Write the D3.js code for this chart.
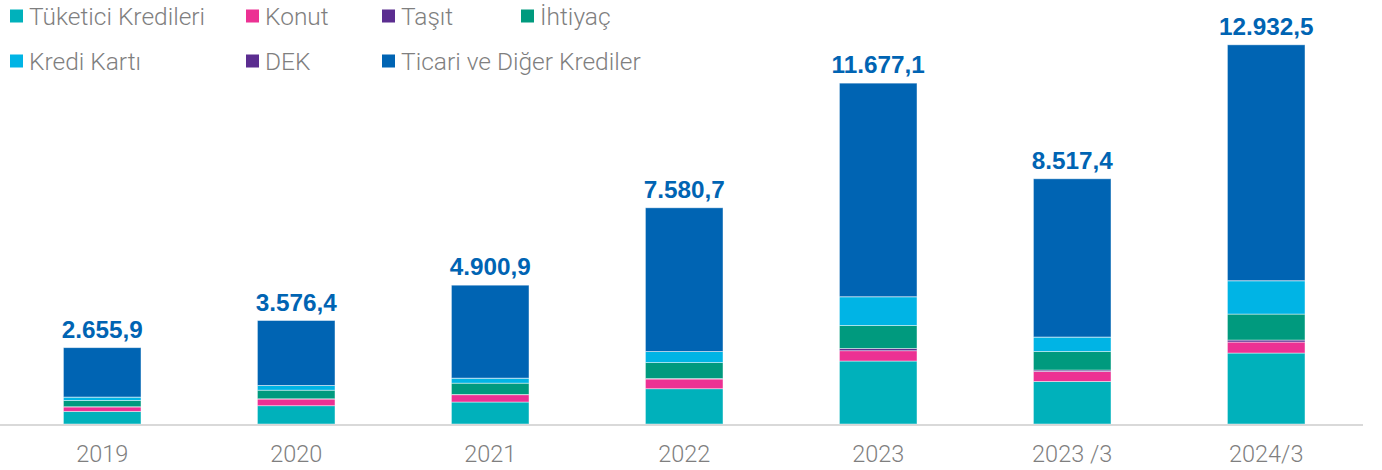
<!DOCTYPE html>
<html>
<head>
<meta charset="utf-8">
<script src="https://cdn.jsdelivr.net/npm/d3@7"></script>
<style>
    body { margin: 0; background: #fff; }
    svg { display: block; }
</style>
</head>
<body>
<svg id="chart" width="1382" height="470"></svg>
<script>
"use strict"

const years = ["2019", "2020", "2021", "2022", "2023", "2023 /3", "2024/3"]
const totals = [2655.9, 3576.4, 4900.9, 7580.7, 11677.1, 8517.4, 12932.5]

const tuketici = [530, 767, 922, 1480, 2642, 1786, 2977]
const konut = [185, 281, 306, 407, 432, 419, 461]
const tasit = [10, 10, 12, 20, 96, 59, 84]
const ihtiyac = [265, 361, 474, 671, 964, 780, 1090]
const krediKarti = [140, 197, 210, 461, 1203, 604, 1396]
const dek = [1, 1, 1, 2, 3, 2, 4]
const ticari = [2071, 2725, 3899, 6029, 8960, 6637, 9895]

const seriesNames = ["Tüketici Kredileri", "Konut", "Taşıt", "İhtiyaç", "Kredi Kartı", "DEK", "Ticari ve Diğer Krediler"]
const seriesValues = [tuketici, konut, tasit, ihtiyac, krediKarti, dek, ticari]
const colors = ["#00b1bb", "#ec3193", "#5b2d90", "#009a7e", "#00b4e5", "#5b2d90", "#0064b3"]

const svg = d3.select("#chart")
const baseline = 424

// one row per year, one key per series
let table = years.map(function(y, i) {
    let row = { year: y }
    seriesNames.forEach((name, j) => { row[name] = seriesValues[j][i] })
    return row
})

let stack = d3.stack().keys(seriesNames)
let layers = stack(table)

let x = d3.scaleBand()
    .domain(years)
    .range([5.2, 1363.2])
    .paddingInner(0.6)
    .paddingOuter(0.3)

let y = d3.scaleLinear()
    .domain([0, 15900])
    .range([baseline, 45])

let groups = svg.append("g").selectAll("g")
        .data(layers)
    .enter().append("g")
        .attr("fill", (d, i) => colors[i])

groups.selectAll("rect")
        .data(d => d)
    .enter().append("rect")
        .attr("x", d => x(d.data.year))
        .attr("width", x.bandwidth())
        .attr("y", d => y(d[1]))
        .attr("height", d => y(d[0]) - y(d[1]))
        .attr("stroke", "rgba(255,255,255,0.55)")
        .attr("stroke-width", 0.8)

// x axis line and labels
svg.append("line")
    .attr("x1", 0)
    .attr("x2", 1363)
    .attr("y1", baseline + 1)
    .attr("y2", baseline + 1)
    .attr("stroke", "#d9d9d9")
    .attr("stroke-width", 1.8)

svg.append("g").selectAll("text")
        .data(years)
    .enter().append("text")
        .attr("x", d => x(d) + x.bandwidth() / 2)
        .attr("y", 462)
        .attr("text-anchor", "middle")
        .style("font-family", "Roboto, 'Liberation Sans', sans-serif")
        .style("font-weight", 300)
        .style("font-size", "23.5px")
        .style("fill", "#7f7f7f")
        .text(d => d)

// totals above bars
let fmt = d3.formatLocale({ decimal: ",", thousands: ".", grouping: [3], currency: ["", ""] }).format(",.1f")
let last = layers[layers.length - 1]

svg.append("g").selectAll("text")
        .data(last)
    .enter().append("text")
        .attr("x", d => x(d.data.year) + x.bandwidth() / 2)
        .attr("y", d => y(d[1]) - 10)
        .attr("text-anchor", "middle")
        .style("font-family", "'Liberation Sans', Arial, sans-serif")
        .style("font-weight", "bold")
        .style("font-size", "24.3px")
        .style("fill", "#0064b3")
        .text((d, i) => fmt(totals[i]))

// legend, two rows
const legendPos = [[10, 16], [246, 16], [382, 16], [521, 16], [10, 61], [246, 61], [382, 61]]

let legend = svg.append("g").selectAll("g")
        .data(seriesNames)
    .enter().append("g")
        .attr("transform", (d, i) => "translate(" + legendPos[i][0] + "," + legendPos[i][1] + ")")

legend.append("rect")
    .attr("x", 0)
    .attr("y", -6.5)
    .attr("width", 13)
    .attr("height", 13)
    .attr("fill", (d, i) => colors[i])

legend.append("text")
    .attr("x", 19)
    .attr("y", 9)
    .style("font-family", "Roboto, 'Liberation Sans', sans-serif")
    .style("font-weight", 300)
    .style("font-size", "24.5px")
    .style("fill", "#7f7f7f")
    .text(d => d)
</script>
</body>
</html>
